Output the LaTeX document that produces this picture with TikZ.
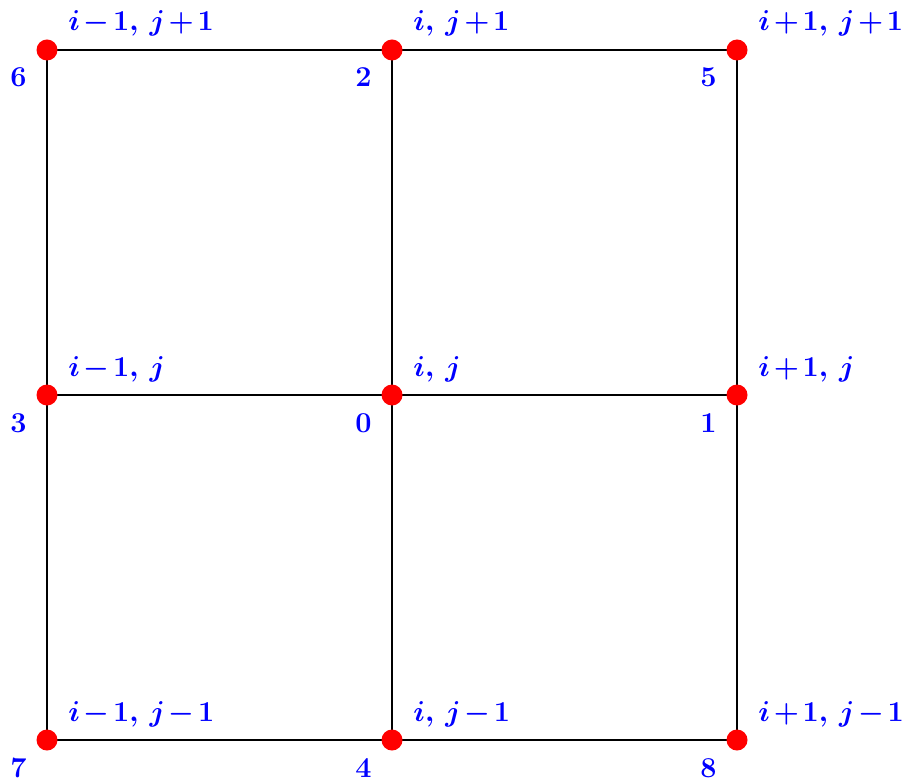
\documentclass[tikz,border=0pt]{standalone}
\usetikzlibrary{calc}
\begin{document}
\begin{tikzpicture}[x=0.5pt,y=-0.5pt,
  pt/.style={circle,fill=red,inner sep=0pt,minimum size=10.5pt},
  lbl/.style={text=blue,font=\fontsize{13.3}{16}\selectfont\boldmath,inner sep=0pt},
  edge/.style={line width=1pt,black}]
\useasboundingbox (0,0) rectangle (913,780);
% points
\coordinate (p6) at (47,50);   \coordinate (p2) at (392,50);  \coordinate (p5) at (737,50);
\coordinate (p3) at (47,395);  \coordinate (p0) at (392,395); \coordinate (p1) at (737,395);
\coordinate (p7) at (47,740);  \coordinate (p4) at (392,740); \coordinate (p8) at (737,740);
% edges
\draw[edge] (p6) -- (p2) -- (p5) -- (p1) -- (p8) -- (p4) -- (p7) -- (p3) -- (p6);
\draw[edge] (p2) -- (p0) -- (p4);
\draw[edge] (p3) -- (p0) -- (p1);
% dots
\foreach \p in {6,2,5,3,0,1,7,4,8} \node[pt] (n\p) at (p\p) {};
% index labels
\foreach \p/\t in {6/{i-1,\,j+1},2/{i,\,j+1},5/{i+1,\,j+1},3/{i-1,\,j},0/{i,\,j},1/{i+1,\,j},7/{i-1,\,j-1},4/{i,\,j-1},8/{i+1,\,j-1}}
  \node[lbl,anchor=base west] (t\p) at ($(p\p)+(21,-19)$) {$\medmuskip=2mu\relax\t$};
% numbers
\foreach \p in {6,2,5,3,0,1,7,4,8}
  \node[lbl,anchor=base east] (m\p) at ($(p\p)+(-20,37)$) {$\p$};
\end{tikzpicture}
\end{document}
